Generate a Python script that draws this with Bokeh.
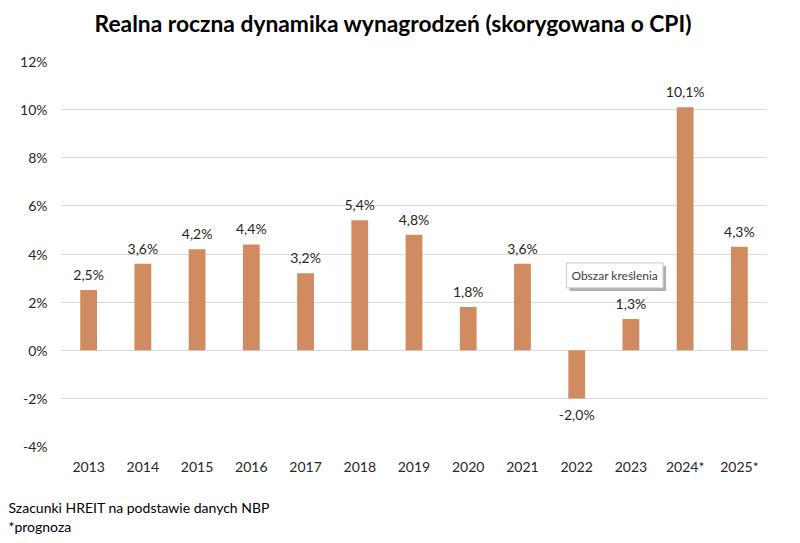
from bokeh.plotting import figure
from bokeh.models import Range1d, FixedTicker, CustomJSTickFormatter, Label, ColumnDataSource, Title
from bokeh.embed import file_html
from bokeh.resources import INLINE
from bokeh.core.properties import value

years = ["2013", "2014", "2015", "2016", "2017", "2018", "2019", "2020", "2021", "2022", "2023", "2024*", "2025*"]
growth = [2.5, 3.6, 4.2, 4.4, 3.2, 5.4, 4.8, 1.8, 3.6, -2.0, 1.3, 10.1, 4.3]
y_ticks = [-4, -2, 0, 2, 4, 6, 8, 10, 12]
title_text = "Realna roczna dynamika wynagrodzeń (skorygowana o CPI)"
footer_lines = ["Szacunki HREIT na podstawie danych NBP", "*prognoza"]
tooltip_text = "Obszar kreślenia"

FONT = "Lato"
BAR = "#D08C60"
SPACE = "\u00a0"

p = figure(x_range=years, y_range=Range1d(-4, 12), width=784, height=540,
           output_backend="svg", toolbar_location=None,
           min_border_left=61, min_border_right=18, min_border_top=61, min_border_bottom=94)
p.outline_line_color = None

# spacer + main title above the frame
p.add_layout(Title(text=SPACE, text_font=FONT, text_font_size="14px", standoff=6), "above")
p.add_layout(Title(text=title_text, align="left", offset=33, text_font=FONT,
                   text_font_style="bold", text_font_size="22.8px", text_color="#000000",
                   standoff=0), "above")

labels = [("%.1f%%" % v).replace(".", ",") for v in growth]
src = ColumnDataSource(dict(x=years, top=growth))
p.vbar(x="x", top="top", bottom=0, width=0.31, source=src, fill_color=BAR, line_color=None)

pos_idx = [i for i, v in enumerate(growth) if v >= 0]
neg_idx = [i for i, v in enumerate(growth) if v < 0]
src_pos = ColumnDataSource(dict(x=[years[i] for i in pos_idx], y=[growth[i] for i in pos_idx], lab=[labels[i] for i in pos_idx]))
src_neg = ColumnDataSource(dict(x=[years[i] for i in neg_idx], y=[growth[i] for i in neg_idx], lab=[labels[i] for i in neg_idx]))
p.text(x="x", y="y", text="lab", source=src_pos, text_align="center", text_baseline="bottom",
       y_offset=-7, text_font=value(FONT), text_font_size="14px", text_color="#262626")
p.text(x="x", y="y", text="lab", source=src_neg, text_align="center", text_baseline="top",
       y_offset=8, text_font=value(FONT), text_font_size="14px", text_color="#262626")

p.yaxis.ticker = FixedTicker(ticks=y_ticks)
p.yaxis.formatter = CustomJSTickFormatter(code="return tick.toFixed(0) + '%';")
for ax in (p.xaxis, p.yaxis):
    ax.axis_line_color = None
    ax.major_tick_line_color = None
    ax.minor_tick_line_color = None
    ax.major_label_text_font = FONT
    ax.major_label_text_font_size = "14px"
    ax.major_label_text_color = "#262626"
p.yaxis.major_label_standoff = 8
p.xaxis.major_label_standoff = 5
p.xgrid.grid_line_color = None
p.ygrid.ticker = FixedTicker(ticks=y_ticks)
p.ygrid.grid_line_color = "#d9d9d9"
p.x_range.range_padding = 0

# spacer + footer lines below the x axis
p.add_layout(Title(text=SPACE, text_font=FONT, text_font_size="14px", standoff=0), "below")
p.add_layout(Title(text=footer_lines[0], align="left", offset=-53, text_font=FONT,
                   text_font_style="normal", text_font_size="14px", text_color="#000000",
                   standoff=0), "below")
p.add_layout(Title(text=footer_lines[1], align="left", offset=-53, text_font=FONT,
                   text_font_style="normal", text_font_size="14px", text_color="#000000",
                   standoff=0), "below")

# tooltip box
p.add_layout(Label(x=9.31, y=3.63, text=tooltip_text, x_offset=3, y_offset=-3,
                   text_align="left", text_baseline="top", text_font=FONT, text_font_size="12px",
                   text_color="#b0b0b0", background_fill_color="#b0b0b0", padding=5))
p.add_layout(Label(x=9.31, y=3.63, text=tooltip_text,
                   text_align="left", text_baseline="top", text_font=FONT, text_font_size="12px",
                   text_color="#404040", background_fill_color="#ffffff",
                   border_line_color="#c8c8c8", padding=5))

open("out.html", "w").write(file_html(p, INLINE))
